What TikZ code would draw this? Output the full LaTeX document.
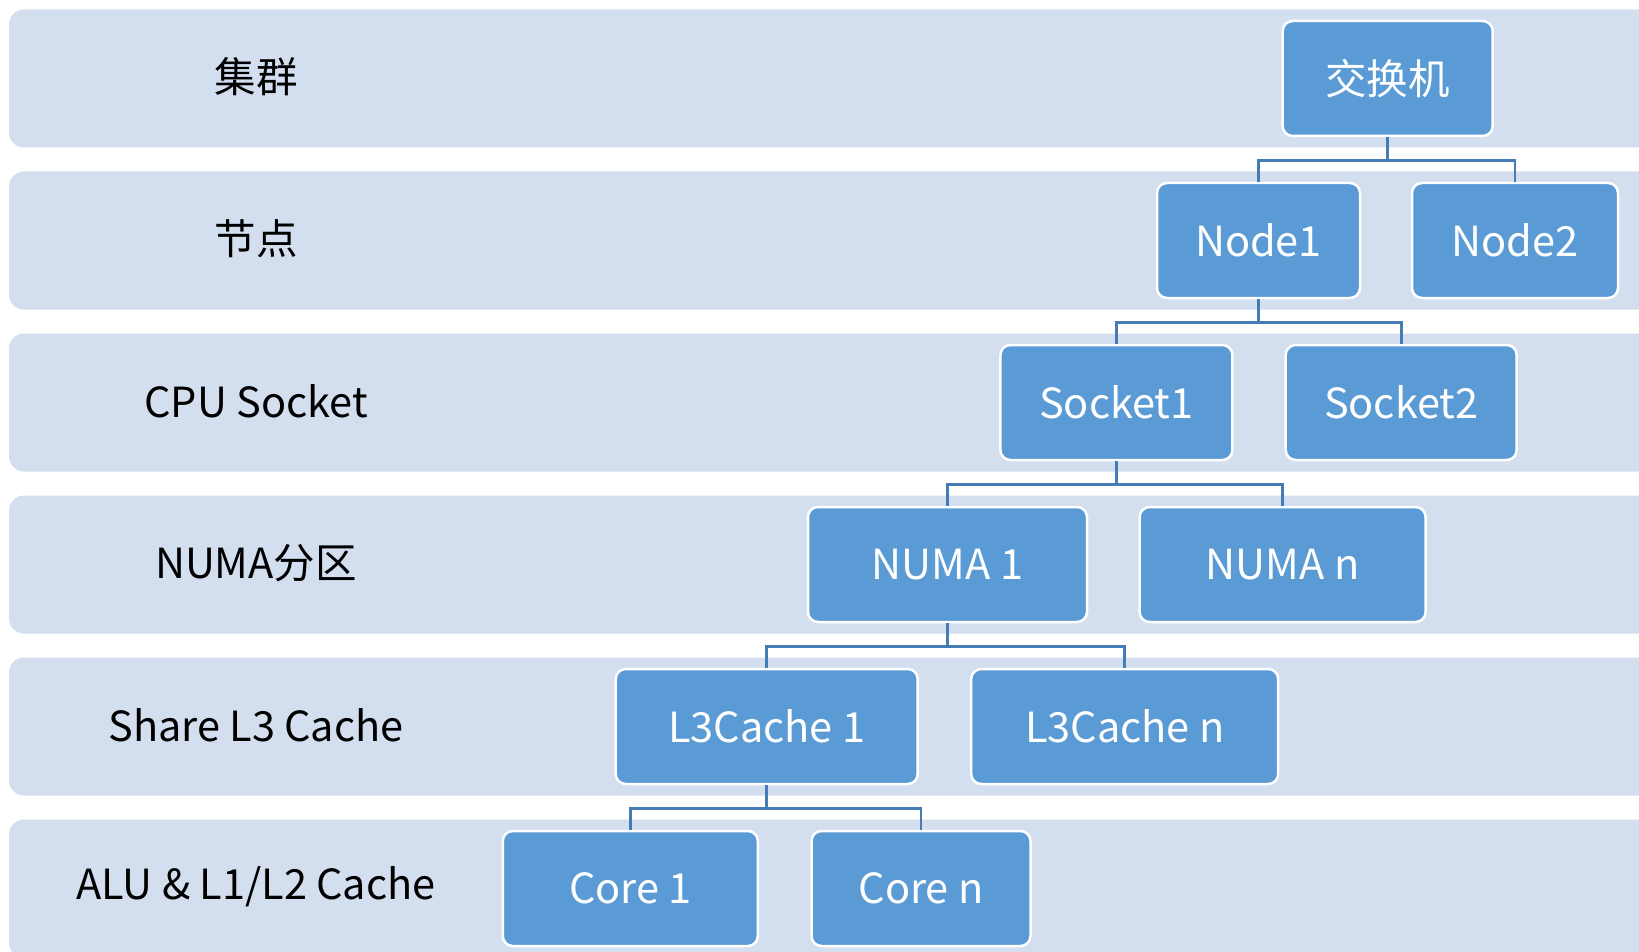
\documentclass[tikz,border=0pt]{standalone}
\usepackage{fontspec}
\setmainfont{Noto Sans CJK SC}
\definecolor{bandfill}{RGB}{211,222,239}
\definecolor{boxfill}{RGB}{91,155,213}
\definecolor{linkcol}{RGB}{70,124,182}
\begin{document}
\begin{tikzpicture}[x=1pt,y=-1pt,
  unit/.style={draw=white, line width=2.5pt, fill=boxfill, rounded corners=10pt,
    text=white, font=\fontsize{41.5}{48}\selectfont, minimum height=115pt, inner sep=0pt},
  level/.style={font=\fontsize{41.5}{48}\selectfont, text=black, inner sep=0pt},
  link/.style={draw=linkcol, line width=2.8pt}]
\useasboundingbox (0,0) rectangle (1639,952);
\clip (0,0) rectangle (1639,952);
% horizontal bands, one per hierarchy level
\foreach \t in {9.5,171.5,333.5,495.5,657.5,819.5}
  \fill[bandfill, rounded corners=15pt] (9,\t) rectangle (1690,\t+138);

% level captions
\node[level] (c1) at (256,77)  {集群};
\node[level] (c2) at (256,239) {节点};
\node[level] (c3) at (256,401) {CPU Socket};
\node[level] (c4) at (256,563) {NUMA分区};
\node[level] (c5) at (256,725) {Share L3 Cache};
\node[level] (c6) at (256,887) {ALU \& L1/L2 Cache};

% tree of units
\node[unit, minimum width=210pt] (sw)  at (1387.7,78.5)  {交换机};
\node[unit, minimum width=203pt] (n1)  at (1258.5,240.5) {Node1};
\node[unit, minimum width=206pt] (n2)  at (1515,240.5)   {Node2};
\node[unit, minimum width=232pt] (s1)  at (1116.4,402.5) {Socket1};
\node[unit, minimum width=231pt] (s2)  at (1401.2,402.5) {Socket2};
\node[unit, minimum width=279pt] (m1)  at (947.5,564.5)  {NUMA 1};
\node[unit, minimum width=286pt] (mn)  at (1282.6,564.5) {NUMA n};
\node[unit, minimum width=302pt] (l1)  at (766.7,726.5)  {L3Cache 1};
\node[unit, minimum width=307pt] (ln)  at (1124.7,726.5) {L3Cache n};
\node[unit, minimum width=255pt] (k1)  at (630.3,888.5)  {Core 1};
\node[unit, minimum width=219pt] (kn)  at (921,888.5)    {Core n};

% elbow connectors from parent to children
\foreach \p/\c in {sw/n1, sw/n2, n1/s1, n1/s2, s1/m1, s1/mn, m1/l1, m1/ln, l1/k1, l1/kn}
  \draw[link] (\p.south) -- ++(0,23.5) -| (\c.north);
\end{tikzpicture}
\end{document}
